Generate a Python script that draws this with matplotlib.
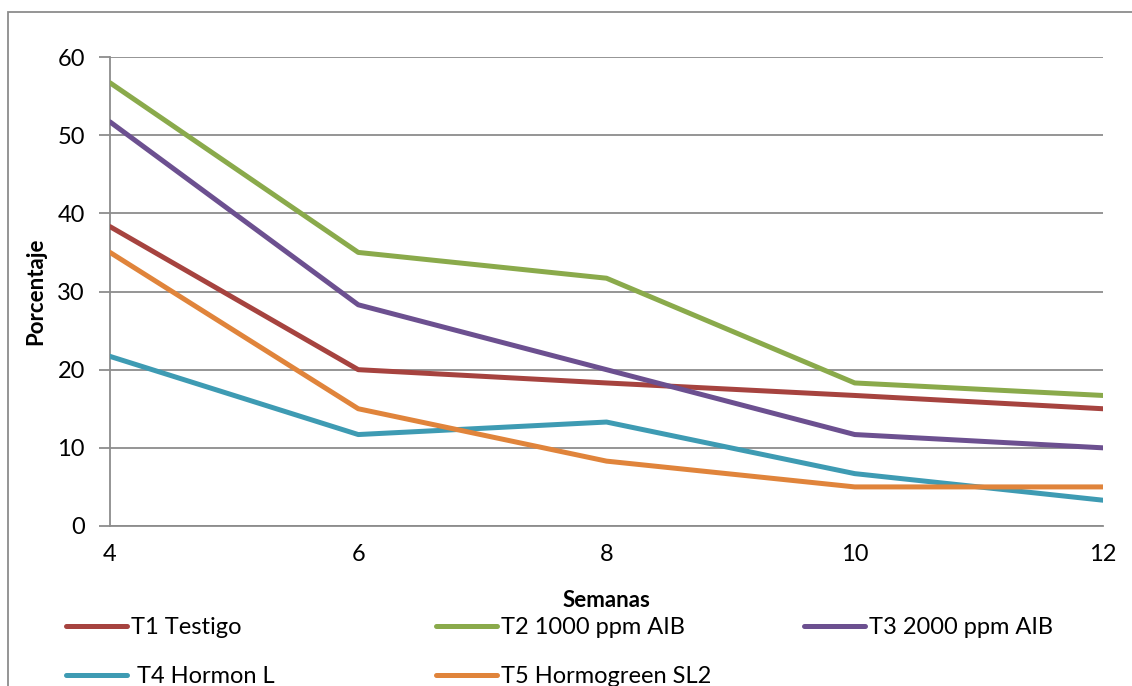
import matplotlib.pyplot as plt
from matplotlib.patches import Rectangle

plt.rcParams['font.family'] = ['Lato', 'DejaVu Sans']

semanas = [4, 6, 8, 10, 12]
t1 = [38.3, 20.0, 18.3, 16.7, 15.0]
t2 = [56.7, 35.0, 31.7, 18.3, 16.7]
t3 = [51.7, 28.3, 20.0, 11.7, 10.0]
t4 = [21.7, 11.7, 13.3, 6.7, 3.3]
t5 = [35.0, 15.0, 8.3, 5.0, 5.0]
nombres = ["T1 Testigo", "T2 1000 ppm AIB", "T3 2000 ppm AIB",
           " T4 Hormon L", "T5 Hormogreen SL2"]
colores = ["#A6433F", "#8AAA4B", "#6C5090", "#3E9BB3", "#E0843B"]

W, H = 1132, 686
fig = plt.figure(figsize=(W / 100, H / 100), dpi=100)
ax = fig.add_axes([110 / W, 1 - 526 / H, (1103 - 110) / W, (526 - 57) / H])

lines = []
for serie, nombre, c in zip([t1, t2, t3, t4, t5], nombres, colores):
    ln, = ax.plot(semanas, serie, color=c, lw=3.6, solid_capstyle='round',
                  solid_joinstyle='round', label=nombre, zorder=3)
    lines.append(ln)

ax.set_xlim(4, 12)
ax.set_ylim(0, 60)
ax.set_xticks(semanas)
ax.set_yticks(range(0, 61, 10))
ax.grid(axis='y', color='#8C8C8C', lw=1.3)
for s in ['top', 'right']:
    ax.spines[s].set_visible(False)
for s in ['left', 'bottom']:
    ax.spines[s].set_color('#8C8C8C')
    ax.spines[s].set_linewidth(1.3)
ax.tick_params(axis='y', length=8, width=1.3, color='#8C8C8C', labelsize=17, pad=10)
ax.tick_params(axis='x', length=0, labelsize=17, pad=13)

ax.set_xlabel("Semanas", fontsize=16, fontweight='bold', labelpad=18)
ax.set_ylabel("Porcentaje", fontsize=16, fontweight='bold', labelpad=8)

# legend: one box per column, row-major reading order
columnas = [([0, 3], 66), ([1, 4], 436), ([2], 804)]
for idx, x0 in columnas:
    fig.legend([lines[i] for i in idx], [nombres[i] for i in idx],
               loc='upper left', bbox_to_anchor=(x0 / W, 1 - 617 / H),
               frameon=False, fontsize=17, handlelength=2.6,
               handletextpad=0.15, labelspacing=1.2,
               borderaxespad=0, borderpad=0)

fig.patches.append(Rectangle((8 / W, -0.05), 1.2, 1 - 12 / H + 0.05,
                             transform=fig.transFigure, fill=False,
                             edgecolor='#8C8C8C', lw=1.3))

fig.savefig("out.png", dpi=100)
